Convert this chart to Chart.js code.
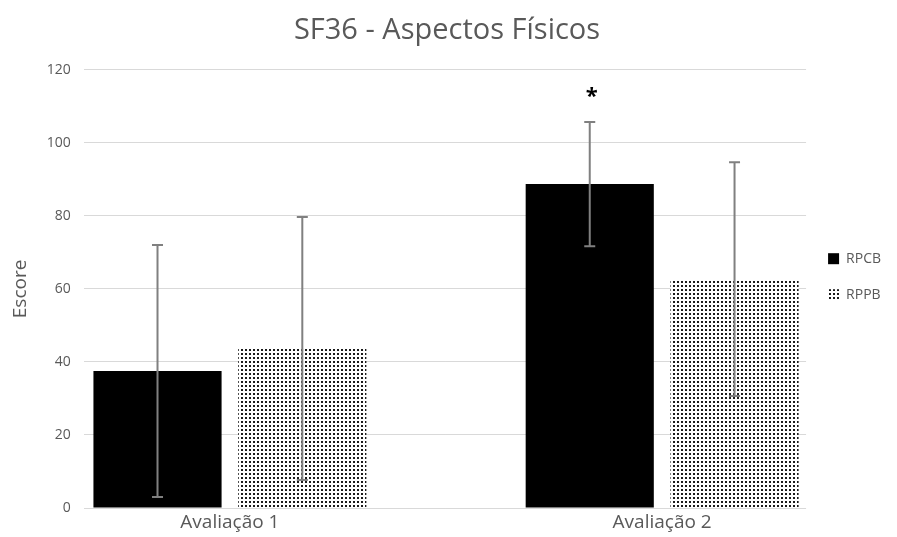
<!DOCTYPE html>
<html>
<head>
<meta charset="utf-8">
<script src="https://cdn.jsdelivr.net/npm/chart.js@4"></script>
<style>
    html, body { margin: 0; padding: 0; background: #fff; }
    #wrap { width: 897px; height: 537px; }
</style>
</head>
<body>
<div id="wrap"><canvas id="chart" width="897" height="537"></canvas></div>
<script>
// values
const categories = ['Avaliação 1', 'Avaliação 2'];
const seriesNames = ['RPCB', 'RPPB'];
const rpcbMeans = [37.5, 88.7];
const rpcbErrors = [34.5, 17];
const rppbMeans = [43.7, 62.7];
const rppbErrors = [36, 32];
const rpcbMarks = ['', '*'];
const yTicks = [0, 20, 40, 60, 80, 100, 120];

const textGray = '#595959';

function dotPattern() {
    const c = document.createElement('canvas');
    c.width = 4;
    c.height = 4;
    const g = c.getContext('2d');
    g.fillStyle = '#ffffff';
    g.fillRect(0, 0, 4, 4);
    g.fillStyle = '#1a1a1a';
    g.fillRect(1, 1, 2, 2);
    return g.createPattern(c, 'repeat');
}

const ctx = document.getElementById('chart').getContext('2d');
const pattern = dotPattern();

// error bars + significance mark drawn on top of the bars
const errorBarPlugin = {
    id: 'errorBars',
    afterDatasetsDraw(chart) {
        const g = chart.ctx;
        const y = chart.scales.y;
        chart.data.datasets.forEach((ds, di) => {
            const meta = chart.getDatasetMeta(di);
            meta.data.forEach((bar, i) => {
                const m = ds.data[i].y;
                const e = ds.errors[i];
                const top = y.getPixelForValue(m + e);
                const bot = y.getPixelForValue(m - e);
                g.save();
                g.strokeStyle = '#808080';
                g.lineWidth = 2;
                g.beginPath();
                g.moveTo(bar.x, top);
                g.lineTo(bar.x, bot);
                g.moveTo(bar.x - 5.5, top);
                g.lineTo(bar.x + 5.5, top);
                g.moveTo(bar.x - 5.5, bot);
                g.lineTo(bar.x + 5.5, bot);
                g.stroke();
                if (ds.marks && ds.marks[i]) {
                    g.fillStyle = '#000';
                    g.font = 'bold 22px "Open Sans", sans-serif';
                    g.textAlign = 'center';
                    g.textBaseline = 'middle';
                    g.fillText(ds.marks[i], bar.x + 2, top - 25);
                }
                g.restore();
            });
        });
    }
};

new Chart(ctx, {
    type: 'bar',
    data: {
        datasets: [
            {
                label: seriesNames[0],
                data: rpcbMeans.map((v, i) => ({ x: i, y: v })),
                errors: rpcbErrors,
                marks: rpcbMarks,
                backgroundColor: '#000000',
                borderWidth: 0
            },
            {
                label: seriesNames[1],
                data: rppbMeans.map((v, i) => ({ x: i, y: v })),
                errors: rppbErrors,
                backgroundColor: pattern,
                borderWidth: 0
            }
        ]
    },
    options: {
        responsive: false,
        animation: false,
        categoryPercentage: 0.670,
        barPercentage: 0.885,
        layout: { padding: { left: 3, right: 6, top: 0, bottom: 0 } },
        plugins: {
            title: {
                display: true,
                text: 'SF36 - Aspectos Físicos',
                color: textGray,
                font: { family: '"Open Sans", sans-serif', size: 29, weight: 'normal' },
                padding: { top: 13, bottom: 22 }
            },
            legend: {
                position: 'right',
                title: {
                    display: true,
                    text: ' ',
                    font: { size: 12 },
                    padding: 1
                },
                labels: {
                    color: textGray,
                    font: { family: '"Open Sans", sans-serif', size: 14 },
                    boxWidth: 11,
                    boxHeight: 11,
                    padding: 22
                }
            },
            tooltip: { enabled: false }
        },
        scales: {
            x: {
                type: 'linear',
                offset: false,
                min: -0.338,
                max: 1.333,
                afterBuildTicks: axis => {
                    axis.ticks = categories.map((c, i) => ({ value: i }));
                },
                ticks: {
                    callback: v => categories[v],
                    color: textGray,
                    font: { family: '"Open Sans", sans-serif', size: 19, lineHeight: 1.0 },
                    padding: 5,
                    maxRotation: 0
                },
                grid: { display: false, drawTicks: false },
                border: { display: false }
            },
            y: {
                min: 0,
                max: 120,
                afterBuildTicks: axis => {
                    axis.ticks = yTicks.map(v => ({ value: v }));
                },
                ticks: {
                    color: textGray,
                    font: { family: '"Open Sans", sans-serif', size: 14 },
                    padding: 13
                },
                grid: { color: '#d9d9d9', lineWidth: 1, drawTicks: false },
                border: { display: false },
                title: {
                    display: true,
                    text: 'Escore',
                    color: textGray,
                    font: { family: '"Open Sans", sans-serif', size: 19 },
                    padding: { top: 6, bottom: 2 }
                }
            }
        }
    },
    plugins: [errorBarPlugin]
});
</script>
</body>
</html>
